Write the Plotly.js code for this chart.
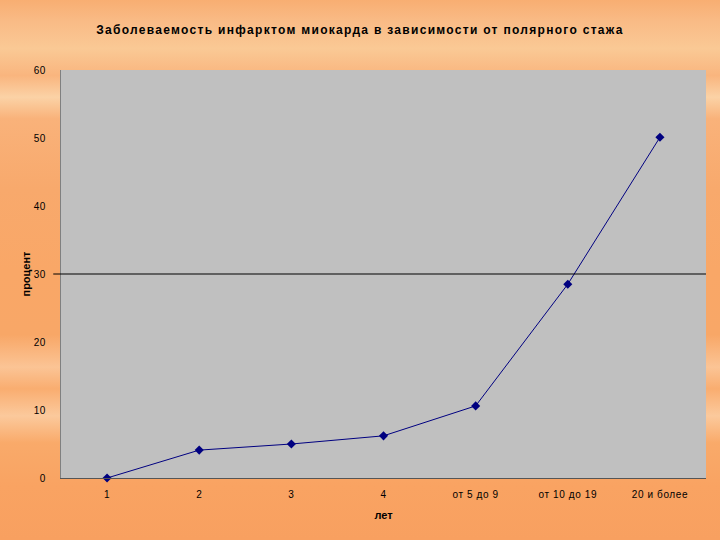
<!DOCTYPE html>
<html>
<head>
<meta charset="utf-8">
<script src="https://cdn.plot.ly/plotly-3.0.1.min.js"></script>
<style>
html, body { margin:0; padding:0; width:720px; height:540px; overflow:hidden; }
body {
  background: linear-gradient(to bottom,
    #f8ae72 0%, #f9bb86 4%, #fac995 9%, #f9b57e 14%, #fbd2a6 18%, #f9b27a 22%,
    #f8a96c 35%, #f9a767 50%, #f8a767 62%, #fbc495 68%, #f9ad70 72%, #fbc99c 77%,
    #f9aa6a 82%, #f9a362 90%, #f8a060 100%);
}
#chart { width:720px; height:540px; }
.gtitle { letter-spacing: 1.3px; }
.xtick text, .ytick text { letter-spacing: 0.6px; }
</style>
</head>
<body>
<div id="chart"></div>
<script>
const categories = ["1", "2", "3", "4", "от 5 до 9", "от 10 до 19", "20 и более"];
const values = [0, 4.1, 5.0, 6.2, 10.6, 28.5, 50.1];
const refLine = 30;

const trace = {
  x: categories,
  y: values,
  type: "scatter",
  mode: "lines+markers",
  line: { color: "#000080", width: 1 },
  marker: { symbol: "diamond", size: 7, color: "#000080" },
  cliponaxis: false,
  hoverinfo: "skip"
};

const layout = {
  width: 720, height: 540,
  paper_bgcolor: "rgba(0,0,0,0)",
  plot_bgcolor: "#c0c0c0",
  margin: { l: 61, r: 14, t: 70, b: 62 },
  showlegend: false,
  title: {
    text: "Заболеваемость инфарктом миокарда в зависимости от полярного стажа",
    font: { family: "Liberation Sans, Arial, sans-serif", size: 12, color: "#000000", weight: "bold" },
    x: 0.5, xanchor: "center", y: 0.945, yanchor: "middle"
  },
  xaxis: {
    type: "category",
    range: [-0.5, 6.5],
    showgrid: false,
    zeroline: false,
    showline: true, linecolor: "#555555", linewidth: 1,
    ticks: "",
    ticklabelstandoff: 7,
    tickfont: { family: "Liberation Sans, Arial, sans-serif", size: 10, color: "#000000" },
    title: { text: "<b>лет</b>", font: { family: "Liberation Sans, Arial, sans-serif", size: 11, color: "#000000" }, standoff: 12 }
  },
  yaxis: {
    range: [0, 60],
    dtick: 10,
    showgrid: false,
    zeroline: false,
    showline: true, linecolor: "#808080", linewidth: 1,
    ticks: "",
    ticklabelstandoff: 12,
    tickfont: { family: "Liberation Sans, Arial, sans-serif", size: 10, color: "#000000" },
    title: { text: "<b>процент</b>", font: { family: "Liberation Sans, Arial, sans-serif", size: 11, color: "#000000" }, standoff: 0 }
  },
  shapes: [
    { type: "line", xref: "paper", yref: "y", x0: -0.012, x1: 1, y0: refLine, y1: refLine,
      line: { color: "#000000", width: 1 } }
  ]
};

Plotly.newPlot("chart", [trace], layout, { staticPlot: true });
</script>
</body>
</html>
